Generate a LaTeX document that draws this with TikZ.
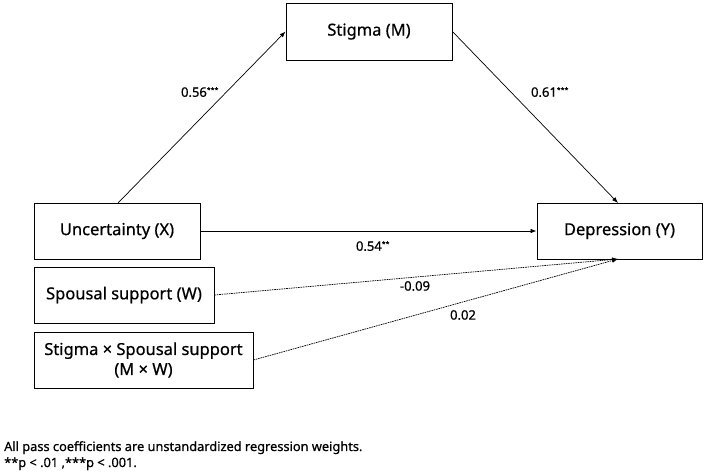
\documentclass[tikz,border=0pt]{standalone}
\usepackage{fontspec}
\setmainfont{Noto Sans}[FakeBold=0.6]
\usetikzlibrary{arrows.meta}
\tikzset{
  box/.style={draw, line width=0.9pt, inner sep=0pt, font=\fontsize{16.5}{20}\selectfont, align=center},
  conn/.style={line width=0.7pt, -{Latex[length=6pt,width=4.5pt]}},
  dconn/.style={conn, dash pattern=on 1.6pt off 0.8pt},
  coef/.style={font=\fontsize{13}{15}\selectfont},
  note/.style={font=\fontsize{12.8}{16}\selectfont, align=left, anchor=north west, inner sep=0pt}
}
\newcommand{\sig}[1]{\textsuperscript{\fontsize{7}{7}\selectfont #1}}
\begin{document}
\begin{tikzpicture}[x=1pt,y=-1pt]
\useasboundingbox (0,0) rectangle (709,476);
\node[box, minimum width=166pt, minimum height=57pt] (M) at (369,31.5) {Stigma (M)};
\node[box, minimum width=166pt, minimum height=56pt] (X) at (117,231) {Uncertainty (X)};
\node[box, minimum width=180pt, minimum height=56pt] (W) at (124,295) {Spousal support (W)};
\node[box, minimum width=219pt, minimum height=56pt] (MW) at (143.5,360) {Stigma \texttimes\ Spousal support\\(M \texttimes\ W)};
\node[box, minimum width=165pt, minimum height=56pt] (Y) at (619.5,231) {Depression (Y)};
\coordinate (Xt) at (118,203);
\coordinate (Yt) at (618,203);
\coordinate (Yb) at (618,259);
\draw[conn] (Xt) -- (M.west);
\draw[conn] (M.east) -- (Yt);
\draw[conn] (X.east) -- (Y.west);
\draw[dconn] (W.east) -- (Yb);
\draw[dconn] (MW.east) -- (Yb);
\node[coef] (l1) at (200,92) {0.56\sig{***}};
\node[coef] (l2) at (550,92) {0.61\sig{***}};
\node[coef] (l3) at (373,246) {0.54\sig{**}};
\node[coef] (l4) at (415,286) {-0.09};
\node[coef] (l5) at (463,315) {0.02};
\node[note] (n) at (4,441) {All pass coefficients are unstandardized regression weights.\\**p < .01 ,***p < .001.};
\end{tikzpicture}
\end{document}
